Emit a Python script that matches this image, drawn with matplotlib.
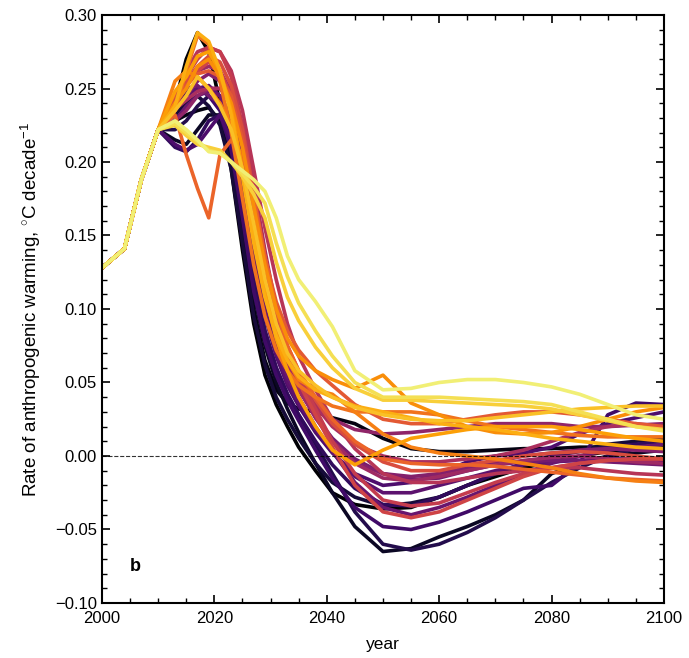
import numpy as np
import matplotlib
matplotlib.use('Agg')
import matplotlib.pyplot as plt
from matplotlib.ticker import MultipleLocator

plt.rcParams['font.family'] = ['Liberation Sans', 'DejaVu Sans']
plt.rcParams['mathtext.fontset'] = 'custom'
plt.rcParams['mathtext.rm'] = 'Liberation Sans'
plt.rcParams['mathtext.it'] = 'Liberation Sans:italic'

# common historical segment, shared by all scenarios
hist_years = [2000, 2004, 2007, 2010]
hist_rate = [0.128, 0.141, 0.188, 0.222]

# scenario years after the common segment
years = [2013, 2015, 2017, 2019, 2021, 2023, 2025, 2027, 2029, 2031, 2033, 2035,
         2038, 2041, 2045, 2050, 2055, 2060, 2065, 2070, 2075, 2080, 2085, 2090, 2095, 2100]

# rate of anthropogenic warming per scenario (degC / decade), ordered dark -> light
rates = [
    [0.240, 0.270, 0.288, 0.275, 0.240, 0.195, 0.140, 0.090, 0.055, 0.035, 0.020, 0.006, -0.010, -0.025, -0.033, -0.036, -0.035, -0.028, -0.020, -0.014, -0.008, -0.004, 0.000, 0.003, 0.005, 0.006],
    [0.228, 0.232, 0.235, 0.237, 0.228, 0.200, 0.150, 0.100, 0.065, 0.045, 0.036, 0.032, 0.030, 0.026, 0.022, 0.012, 0.005, 0.003, 0.003, 0.004, 0.005, 0.005, 0.006, 0.006, 0.005, 0.005],
    [0.215, 0.212, 0.222, 0.232, 0.232, 0.205, 0.160, 0.110, 0.075, 0.050, 0.032, 0.016, -0.005, -0.025, -0.048, -0.065, -0.063, -0.055, -0.048, -0.040, -0.030, -0.012, -0.005, 0.000, 0.002, 0.004],
    [0.232, 0.240, 0.245, 0.238, 0.225, 0.195, 0.145, 0.095, 0.062, 0.040, 0.025, 0.012, -0.005, -0.018, -0.028, -0.034, -0.032, -0.028, -0.020, -0.012, -0.005, 0.000, 0.004, 0.008, 0.010, 0.012],
    [0.222, 0.228, 0.238, 0.245, 0.240, 0.215, 0.170, 0.120, 0.085, 0.060, 0.042, 0.028, 0.008, -0.012, -0.038, -0.060, -0.064, -0.060, -0.052, -0.042, -0.030, -0.018, -0.008, 0.000, 0.005, 0.008],
    [0.210, 0.207, 0.215, 0.228, 0.232, 0.210, 0.168, 0.120, 0.085, 0.060, 0.042, 0.028, 0.010, -0.006, -0.022, -0.033, -0.034, -0.028, -0.020, -0.012, -0.005, 0.000, 0.003, 0.006, 0.008, 0.010],
    [0.235, 0.248, 0.250, 0.245, 0.235, 0.208, 0.162, 0.112, 0.078, 0.055, 0.038, 0.024, 0.004, -0.015, -0.035, -0.048, -0.050, -0.045, -0.038, -0.030, -0.022, -0.020, -0.005, 0.028, 0.036, 0.035],
    [0.212, 0.208, 0.212, 0.222, 0.232, 0.215, 0.180, 0.135, 0.095, 0.068, 0.048, 0.034, 0.016, 0.002, -0.012, -0.020, -0.018, -0.012, -0.004, 0.000, 0.002, 0.006, 0.015, 0.022, 0.026, 0.030],
    [0.238, 0.245, 0.250, 0.252, 0.245, 0.225, 0.185, 0.138, 0.098, 0.070, 0.050, 0.036, 0.018, 0.003, -0.014, -0.025, -0.025, -0.020, -0.015, -0.010, -0.006, -0.004, -0.003, -0.002, -0.002, -0.003],
    [0.228, 0.238, 0.245, 0.248, 0.245, 0.232, 0.195, 0.148, 0.105, 0.075, 0.054, 0.040, 0.020, 0.003, -0.018, -0.035, -0.040, -0.035, -0.028, -0.020, -0.012, -0.005, 0.000, 0.004, 0.006, 0.008],
    [0.240, 0.250, 0.252, 0.245, 0.240, 0.232, 0.205, 0.160, 0.115, 0.083, 0.060, 0.045, 0.027, 0.012, -0.002, -0.012, -0.016, -0.015, -0.010, -0.006, -0.004, -0.003, -0.003, -0.004, -0.005, -0.006],
    [0.235, 0.245, 0.255, 0.260, 0.255, 0.240, 0.208, 0.162, 0.118, 0.085, 0.062, 0.046, 0.026, 0.010, -0.004, -0.012, -0.014, -0.012, -0.008, -0.004, 0.000, 0.002, 0.004, 0.005, 0.004, 0.003],
    [0.228, 0.235, 0.245, 0.250, 0.250, 0.240, 0.215, 0.170, 0.125, 0.090, 0.066, 0.050, 0.035, 0.025, 0.018, 0.015, 0.016, 0.018, 0.020, 0.022, 0.022, 0.022, 0.020, 0.020, 0.021, 0.022],
    [0.240, 0.255, 0.262, 0.265, 0.262, 0.248, 0.218, 0.172, 0.126, 0.090, 0.064, 0.046, 0.026, 0.010, -0.005, -0.015, -0.017, -0.014, -0.010, -0.006, -0.003, -0.001, 0.000, -0.002, -0.004, -0.005],
    [0.236, 0.242, 0.248, 0.250, 0.250, 0.245, 0.225, 0.185, 0.140, 0.100, 0.072, 0.054, 0.034, 0.020, 0.008, 0.000, -0.004, -0.004, -0.002, 0.000, 0.004, 0.010, 0.016, 0.020, 0.022, 0.020],
    [0.240, 0.262, 0.275, 0.278, 0.275, 0.262, 0.235, 0.195, 0.155, 0.120, 0.090, 0.068, 0.045, 0.025, 0.005, -0.012, -0.018, -0.018, -0.015, -0.012, -0.010, -0.008, -0.008, -0.010, -0.012, -0.013],
    [0.245, 0.258, 0.270, 0.278, 0.275, 0.258, 0.225, 0.180, 0.135, 0.100, 0.074, 0.055, 0.032, 0.010, -0.012, -0.030, -0.034, -0.032, -0.025, -0.018, -0.012, -0.008, -0.005, -0.003, -0.002, -0.002],
    [0.238, 0.252, 0.262, 0.268, 0.262, 0.245, 0.212, 0.168, 0.125, 0.092, 0.068, 0.050, 0.028, 0.006, -0.020, -0.038, -0.042, -0.038, -0.030, -0.022, -0.014, -0.008, -0.005, -0.003, -0.002, -0.002],
    [0.245, 0.255, 0.265, 0.272, 0.268, 0.252, 0.222, 0.178, 0.135, 0.100, 0.075, 0.058, 0.038, 0.022, 0.008, -0.004, -0.010, -0.010, -0.006, -0.003, 0.000, 0.002, 0.003, 0.002, 0.000, -0.002],
    [0.240, 0.252, 0.260, 0.262, 0.258, 0.245, 0.215, 0.175, 0.135, 0.105, 0.085, 0.072, 0.058, 0.048, 0.035, 0.025, 0.022, 0.022, 0.025, 0.028, 0.030, 0.030, 0.028, 0.025, 0.022, 0.020],
    [0.232, 0.205, 0.182, 0.162, 0.205, 0.215, 0.205, 0.175, 0.135, 0.100, 0.075, 0.058, 0.040, 0.025, 0.010, -0.002, -0.005, -0.006, -0.006, -0.007, -0.009, -0.011, -0.013, -0.015, -0.016, -0.017],
    [0.235, 0.262, 0.286, 0.280, 0.255, 0.220, 0.175, 0.130, 0.095, 0.072, 0.058, 0.048, 0.040, 0.034, 0.030, 0.030, 0.030, 0.028, 0.024, 0.020, 0.018, 0.016, 0.014, 0.013, 0.013, 0.013],
    [0.255, 0.262, 0.258, 0.250, 0.240, 0.225, 0.195, 0.155, 0.115, 0.085, 0.065, 0.052, 0.045, 0.042, 0.030, 0.015, 0.006, 0.002, 0.000, -0.002, -0.005, -0.008, -0.012, -0.015, -0.017, -0.018],
    [0.240, 0.250, 0.265, 0.270, 0.258, 0.240, 0.210, 0.170, 0.130, 0.100, 0.080, 0.068, 0.058, 0.052, 0.046, 0.055, 0.036, 0.028, 0.020, 0.016, 0.015, 0.016, 0.020, 0.025, 0.030, 0.033],
    [0.248, 0.258, 0.272, 0.275, 0.262, 0.235, 0.195, 0.150, 0.110, 0.080, 0.058, 0.040, 0.020, 0.004, -0.006, 0.004, 0.012, 0.015, 0.018, 0.020, 0.020, 0.020, 0.018, 0.015, 0.012, 0.010],
    [0.238, 0.265, 0.288, 0.282, 0.262, 0.232, 0.190, 0.145, 0.108, 0.082, 0.065, 0.054, 0.045, 0.040, 0.034, 0.030, 0.026, 0.022, 0.020, 0.018, 0.015, 0.012, 0.010, 0.008, 0.006, 0.005],
    [0.235, 0.245, 0.258, 0.250, 0.238, 0.222, 0.195, 0.158, 0.120, 0.090, 0.070, 0.058, 0.048, 0.040, 0.033, 0.028, 0.025, 0.024, 0.024, 0.026, 0.028, 0.030, 0.032, 0.033, 0.034, 0.034],
    [0.225, 0.218, 0.212, 0.210, 0.208, 0.200, 0.190, 0.178, 0.162, 0.132, 0.108, 0.092, 0.074, 0.060, 0.046, 0.038, 0.038, 0.037, 0.036, 0.035, 0.034, 0.032, 0.028, 0.024, 0.020, 0.018],
    [0.226, 0.220, 0.214, 0.208, 0.206, 0.200, 0.192, 0.183, 0.172, 0.145, 0.122, 0.104, 0.085, 0.068, 0.050, 0.040, 0.040, 0.040, 0.039, 0.038, 0.037, 0.035, 0.030, 0.025, 0.020, 0.017],
    [0.228, 0.222, 0.215, 0.207, 0.206, 0.200, 0.194, 0.188, 0.180, 0.162, 0.136, 0.120, 0.105, 0.088, 0.058, 0.045, 0.046, 0.050, 0.052, 0.052, 0.050, 0.047, 0.042, 0.035, 0.028, 0.025],
]

fig = plt.figure(figsize=(6.89, 6.58), dpi=100)
ax = fig.add_axes([0.148, 0.0836, 0.8157, 0.8936])

cmap = plt.get_cmap('inferno')
cvals = np.linspace(0.0, 0.95, len(rates))
x = np.array(hist_years + years)
for r, c in zip(rates, cvals):
    ax.plot(x, hist_rate + r, color=cmap(c), lw=2.6, solid_joinstyle='round')

ax.axhline(0, color='k', ls='--', lw=0.8, alpha=0.8, zorder=5)

ax.set_xlim(2000, 2100)
ax.set_ylim(-0.10, 0.30)
ax.xaxis.set_major_locator(MultipleLocator(20))
ax.xaxis.set_minor_locator(MultipleLocator(5))
ax.yaxis.set_major_locator(MultipleLocator(0.05))
ax.yaxis.set_minor_locator(MultipleLocator(0.01))
ax.tick_params(which='both', direction='in', top=True, right=True, labelsize=12)
ax.tick_params(which='major', length=6, width=1.2)
ax.tick_params(which='minor', length=3.5, width=1.0)
ax.tick_params(axis='x', which='major', pad=6)
for s in ax.spines.values():
    s.set_linewidth(1.5)

ax.set_xlabel('year', fontsize=12.5, labelpad=8)
ax.set_ylabel(r'Rate of anthropogenic warming, $^{\circ}$C decade$^{-1}$', fontsize=13.5, labelpad=9)
ax.text(2006, -0.075, 'b', fontsize=13, fontweight='bold', ha='center', va='center')

fig.savefig('out.png', dpi=100)
